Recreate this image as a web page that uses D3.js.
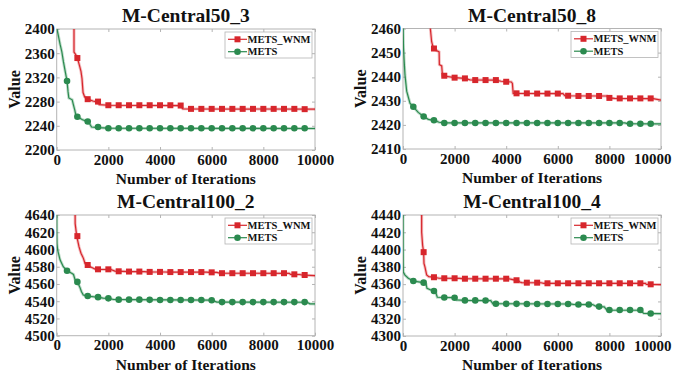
<!DOCTYPE html>
<html>
<head>
<meta charset="utf-8">
<script src="https://cdn.jsdelivr.net/npm/d3@7"></script>
<style>
  body { margin: 0; background: #fff; }
</style>
</head>
<body>
<div id="chart"></div>
<script>
// ---- data ----
const titles = ["M-Central50_3", "M-Central50_8", "M-Central100_2", "M-Central100_4"];
const seriesNames = ["METS_WNM", "METS"];
const xTicks = [0, 2000, 4000, 6000, 8000, 10000];
const yTicks1 = [2200, 2240, 2280, 2320, 2360, 2400];
const yTicks2 = [2410, 2420, 2430, 2440, 2450, 2460];
const yTicks3 = [4500, 4520, 4540, 4560, 4580, 4600, 4620, 4640];
const yTicks4 = [4300, 4320, 4340, 4360, 4380, 4400, 4420, 4440];
const markerIters = [400, 800, 1200, 1600, 2000, 2400, 2800, 3200, 3600, 4000, 4400, 4800,
  5200, 5600, 6000, 6400, 6800, 7200, 7600, 8000, 8400, 8800, 9200, 9600];

// panel 1
const wnmLine1 = [[670,2500],[670,2362],[760,2356],[800,2352],[880,2340],[940,2330],[980,2318],[1020,2295],
  [1080,2288],[1200,2284],[1400,2281],[1600,2279],[1650,2275],[2000,2274],[4800,2273.5],[4880,2268],[10000,2267.5]];
const metsLine1 = [[0,2402],[60,2390],[130,2375],[200,2362],[260,2346],[320,2332],[400,2314],[440,2296],
  [470,2286],[600,2283],[640,2276],[700,2266],[750,2256],[800,2255],[1000,2250],[1200,2247],[1280,2243],
  [1350,2238],[1600,2237],[2000,2236],[10000,2235.5]];
const wnmMarks1 = [null,2352,2284,2280,2274,2274,2274,2274,2274,2274,2274,2273.5,
  2268,2268,2268,2268,2268,2268,2268,2268,2268,2268,2268,2267.5];
const metsMarks1 = [2314,2255,2247,2238,2236,2236,2236,2236,2236,2236,2236,2236,
  2236,2236,2236,2236,2236,2236,2236,2236,2236,2236,2236,2236];

// panel 2
const wnmLine2 = [[1045,2470],[1060,2460],[1110,2454.5],[1180,2451.7],[1280,2451],[1400,2450.3],[1410,2445],
  [1500,2444.5],[1530,2440.5],[1600,2440.3],[2000,2439.6],[2400,2439.3],[2600,2438.7],[3600,2438.6],
  [3800,2438.1],[4200,2437.8],[4240,2437.2],[4270,2433.1],[6200,2433],[6270,2432.1],[7900,2432],
  [7950,2431.2],[8200,2431],[9700,2430.9],[10000,2430.3]];
const metsLine2 = [[0,2475],[5,2460],[20,2452],[40,2447.5],[77,2440.7],[143,2434],[270,2429],[400,2427.5],
  [590,2425.2],[800,2423.5],[980,2422.3],[1200,2421.9],[1400,2421.1],[1600,2420.8],[8600,2420.8],
  [8700,2420.5],[10000,2420.4]];
const wnmMarks2 = [null,null,2451.7,2440.4,2439.6,2439.3,2438.6,2438.6,2438.6,2437.9,2433.1,2433.1,
  2433,2433,2433,2432.1,2432,2432,2432,2431.2,2431,2431,2431,2431];
const metsMarks2 = [2427.5,2423.5,2421.9,2420.8,2420.8,2420.8,2420.8,2420.8,2420.8,2420.8,2420.8,2420.8,
  2420.8,2420.8,2420.8,2420.8,2420.8,2420.8,2420.8,2420.8,2420.8,2420.5,2420.5,2420.5];

// panel 3
const wnmLine3 = [[710,4660],[715,4630],[775,4615.5],[865,4603],[940,4595.6],[1000,4592],[1030,4590],
  [1095,4584],[1200,4582],[1300,4580],[1420,4578.2],[1500,4577],[2100,4576.8],[2250,4575],[2800,4574.4],
  [3400,4574.3],[3500,4574],[4200,4573.9],[4300,4573.8],[5800,4573.7],[5900,4573.5],[6200,4573.4],
  [6300,4572.5],[9000,4572.4],[9050,4571.2],[9400,4571],[9500,4570.4],[10000,4569.6]];
const metsLine3 = [[0,4645],[2,4620],[10,4607],[40,4599],[130,4588],[255,4580],[400,4575.4],[580,4572.4],
  [650,4571],[710,4565],[800,4562.4],[900,4556],[960,4551],[1030,4547.2],[1200,4546],[1600,4544.6],
  [1800,4543.5],[2000,4543.3],[2200,4542],[3000,4541.8],[6000,4541.2],[6200,4539],[9700,4538.8],
  [9800,4537],[10000,4536.8]];
const wnmMarks3 = [null,4615.5,4582,4577,4577,4574.7,4574.4,4574.4,4574,4574,4573.8,4573.8,
  4573.8,4573.8,4573.5,4572.5,4572.5,4572.5,4572.5,4572.5,4572.5,4572.5,4571.2,4570.4];
const metsMarks3 = [4575.4,4562.4,4546,4544.7,4543.3,4541.8,4541.8,4541.8,4541.6,4541.4,4541.4,4541.4,
  4541.4,4541.4,4541.2,4539,4539,4539,4539,4539,4539,4539,4539,4539];

// panel 4
const wnmLine4 = [[723,4460],[723,4420],[760,4405],[800,4397],[813,4384],[850,4380],[917,4370.6],
  [1000,4368.6],[1200,4368],[1400,4366.8],[2200,4366.7],[2300,4366.3],[4100,4366.2],[4205,4365.6],
  [4350,4364.6],[4450,4364.3],[4530,4362.5],[4600,4361.7],[5350,4361.6],[5450,4361],[9400,4360.9],
  [9430,4359.8],[10000,4359.5]];
const metsLine4 = [[0,4445],[2,4400],[5,4385],[12,4374],[77,4370.5],[205,4366.8],[400,4363.6],[600,4362.7],
  [800,4361.7],[890,4360.2],[930,4355.2],[1100,4353],[1200,4352],[1280,4349.4],[1330,4344.8],[2000,4344.3],
  [2080,4341.7],[2400,4341.2],[3400,4341],[3480,4337.4],[6500,4337],[6600,4336.5],[7350,4336.4],
  [7500,4334],[7800,4333.8],[7900,4330],[9200,4329.8],[9330,4326.2],[10000,4325.8]];
const wnmMarks4 = [null,4397,4368,4366.8,4366.8,4366.3,4366.3,4366.3,4366.3,4366.3,4364.5,4361.7,
  4361.7,4361,4361,4361,4361,4361,4361,4361,4361,4361,4361,4359.8];
const metsMarks4 = [4363.6,4361.7,4352,4344.5,4344.3,4341.2,4341.2,4341,4337.4,4337.2,4337.2,4337,
  4337,4337,4337,4337,4336.5,4336.5,4334,4330,4330,4330,4330,4326];

// ---- layout ----
const W = 678, H = 379;
const red = "#d7262c", green = "#2b8a4f", frameCol = "#b4b4b4";
const serif = "'Liberation Serif', 'Times New Roman', Times, serif";

const panels = [
  {title: titles[0], yTicks: yTicks1, wnm: wnmLine1, mets: metsLine1, wnmM: wnmMarks1, metsM: metsMarks1,
   box: {left: 56.7, top: 29, right: 315, bottom: 150}},
  {title: titles[1], yTicks: yTicks2, wnm: wnmLine2, mets: metsLine2, wnmM: wnmMarks2, metsM: metsMarks2,
   box: {left: 403, top: 28.5, right: 661, bottom: 149}},
  {title: titles[2], yTicks: yTicks3, wnm: wnmLine3, mets: metsLine3, wnmM: wnmMarks3, metsM: metsMarks3,
   box: {left: 56.7, top: 215, right: 315, bottom: 335.7}},
  {title: titles[3], yTicks: yTicks4, wnm: wnmLine4, mets: metsLine4, wnmM: wnmMarks4, metsM: metsMarks4,
   box: {left: 403, top: 215, right: 661, bottom: 336}}
];

const svg = d3.select("#chart").append("svg")
  .attr("width", W).attr("height", H);

panels.forEach(function(p, i) {
  const b = p.box;
  const x = d3.scaleLinear().domain([0, 10000]).range([b.left, b.right]);
  const y = d3.scaleLinear().domain(d3.extent(p.yTicks)).range([b.bottom, b.top]);
  const g = svg.append("g");

  // clip for the curves
  const clipId = "clip" + i;
  svg.append("clipPath").attr("id", clipId).append("rect")
    .attr("x", b.left).attr("y", b.top)
    .attr("width", b.right - b.left).attr("height", b.bottom - b.top);

  // axes (ticks pointing inward)
  const fmt = d3.format("d");
  const axB = g.append("g").attr("transform", `translate(0,${b.bottom})`)
    .call(d3.axisBottom(x).tickValues(xTicks).tickSize(-3).tickSizeOuter(0).tickPadding(4).tickFormat(fmt));
  const axT = g.append("g").attr("transform", `translate(0,${b.top})`)
    .call(d3.axisTop(x).tickValues(xTicks).tickSize(-3).tickSizeOuter(0).tickFormat(""));
  const axL = g.append("g").attr("transform", `translate(${b.left},0)`)
    .call(d3.axisLeft(y).tickValues(p.yTicks).tickSize(-3).tickSizeOuter(0).tickPadding(2).tickFormat(fmt));
  const axR = g.append("g").attr("transform", `translate(${b.right},0)`)
    .call(d3.axisRight(y).tickValues(p.yTicks).tickSize(-3).tickSizeOuter(0).tickFormat(""));
  [axB, axT, axL, axR].forEach(function(a) {
    a.attr("font-family", null).attr("font-size", null);
    a.select(".domain").remove();
    a.selectAll(".tick line").attr("stroke", frameCol);
    a.selectAll(".tick text").style("font-size", "15px").attr("fill", "#111");
  });
  axB.selectAll(".tick text").attr("dy", "0.71em");
  // right-hand panels: last x label is pushed in so it stays on the page
  if (b.right + 18 > W) {
    axB.selectAll(".tick text").filter(d => d === 10000)
      .attr("text-anchor", "end").attr("x", W - 7 - b.right);
  }

  g.append("rect")
    .attr("x", b.left).attr("y", b.top)
    .attr("width", b.right - b.left).attr("height", b.bottom - b.top)
    .attr("fill", "none").attr("stroke", frameCol).attr("stroke-width", 1);

  // curves
  const line = d3.line().x(d => x(d[0])).y(d => y(d[1]));
  const plot = g.append("g").attr("clip-path", `url(#${clipId})`);
  const series = [
    {pts: p.mets, marks: p.metsM, color: green, shape: "circle"},
    {pts: p.wnm, marks: p.wnmM, color: red, shape: "square"}
  ];
  series.forEach(function(s) {
    plot.append("path").datum(s.pts).attr("d", line)
      .attr("fill", "none").attr("stroke", s.color).attr("stroke-opacity", 0.3).attr("stroke-width", 3);
    plot.append("path").datum(s.pts).attr("d", line)
      .attr("fill", "none").attr("stroke", s.color).attr("stroke-width", 1.2);
    const md = markerIters.map((it, k) => [it, s.marks[k]]).filter(d => d[1] !== null);
    if (s.shape === "circle") {
      plot.selectAll(null).data(md).enter().append("circle")
        .attr("cx", d => x(d[0])).attr("cy", d => y(d[1])).attr("r", 3.3)
        .attr("fill", s.color);
    } else {
      plot.selectAll(null).data(md).enter().append("rect")
        .attr("x", d => x(d[0]) - 3).attr("y", d => y(d[1]) - 3)
        .attr("width", 6).attr("height", 6).attr("fill", s.color);
    }
  });

  // title and axis labels
  g.append("text").attr("x", (b.left + b.right) / 2).attr("y", b.top - 7)
    .attr("text-anchor", "middle").style("font-size", "19.5px").text(p.title);
  g.append("text").attr("x", (b.left + b.right) / 2).attr("y", b.bottom + 34)
    .attr("text-anchor", "middle").style("font-size", "15.5px").text("Number of Iterations");
  g.append("text")
    .attr("transform", `translate(${b.left - 37},${(b.top + b.bottom) / 2}) rotate(-90)`)
    .attr("text-anchor", "middle").style("font-size", "16px").text("Value");

  // legend
  const lx = b.right - 90, ly = b.top + 3;
  const lg = g.append("g");
  lg.append("rect").attr("x", lx).attr("y", ly).attr("width", 87).attr("height", 26)
    .attr("fill", "#fff").attr("stroke", frameCol).attr("stroke-width", 0.8);
  [{name: seriesNames[0], color: red, shape: "square"},
   {name: seriesNames[1], color: green, shape: "circle"}].forEach(function(e, k) {
    const cy = ly + 7.3 + k * 12.4;
    lg.append("line").attr("x1", lx + 3).attr("x2", lx + 22).attr("y1", cy).attr("y2", cy)
      .attr("stroke", e.color).attr("stroke-width", 1.2);
    if (e.shape === "square") {
      lg.append("rect").attr("x", lx + 9.5).attr("y", cy - 3).attr("width", 6).attr("height", 6).attr("fill", e.color);
    } else {
      lg.append("circle").attr("cx", lx + 12.5).attr("cy", cy).attr("r", 3.3).attr("fill", e.color);
    }
    lg.append("text").attr("x", lx + 22.5).attr("y", cy).attr("dy", "0.35em")
      .style("font-size", "10.5px").text(e.name);
  });
});

// every label in bold serif, like the original figure
svg.selectAll("text")
  .style("font-family", serif)
  .style("font-weight", "bold")
  .style("fill", "#111");
</script>
</body>
</html>
